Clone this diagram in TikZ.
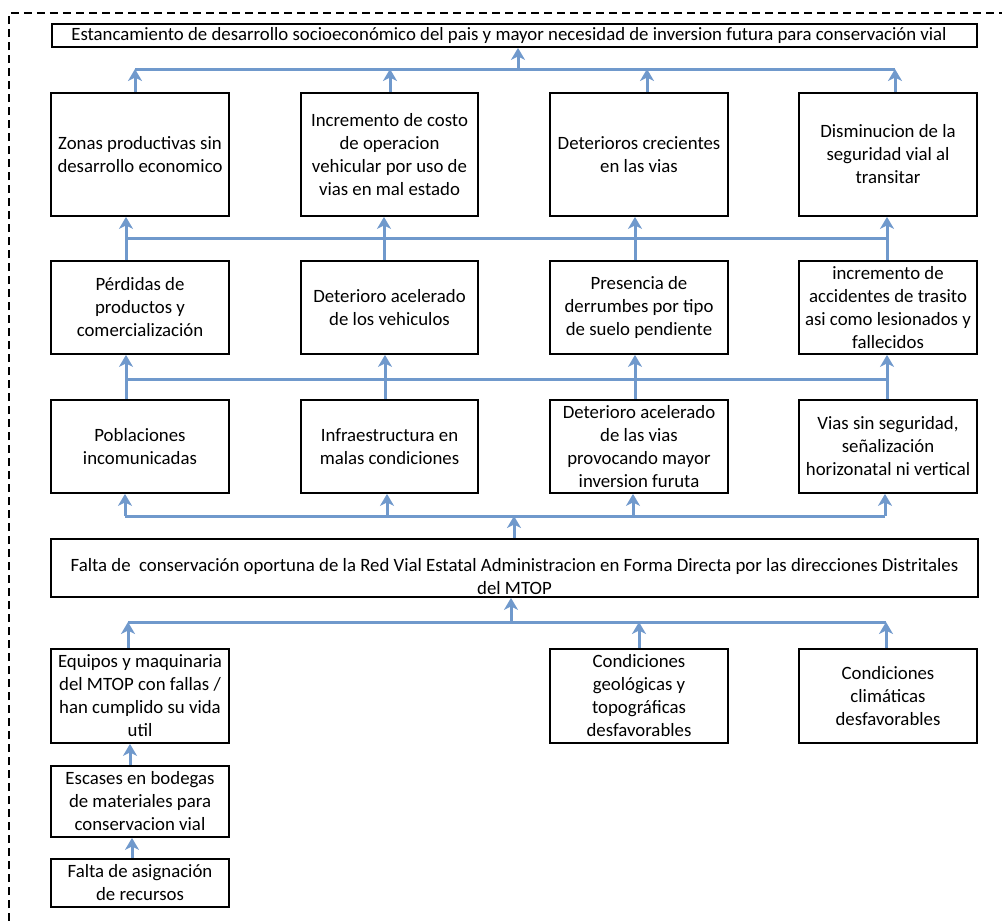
\documentclass[tikz,border=0pt]{standalone}
\usepackage{fontspec}
\setmainfont{Carlito}
\usetikzlibrary{arrows.meta}
\definecolor{arrblue}{RGB}{112,153,204}
\begin{document}
\begin{tikzpicture}[x=1pt,y=-1pt,
  box/.style={draw=black, line width=1.8pt, align=center, inner sep=1pt, font=\fontsize{18.8}{23}\selectfont},
  widetxt/.style={align=center, inner sep=0pt, font=\fontsize{18.8}{23}\selectfont},
  arr/.style={draw=arrblue, line width=3pt, -{Stealth[length=12pt,width=14pt,inset=3.5pt]}},
  ln/.style={draw=arrblue, line width=3pt}]
\useasboundingbox (0,0) rectangle (1002,921);
\draw[line width=1.2pt, dash pattern=on 8pt off 5pt] (9,921) -- (9,13) -- (1002,13);

% top
\node[box, minimum width=925pt, minimum height=23pt] (top) at (514.5,35.5) {};
\node[widetxt] (toptxt) at (509,35.5) {Estancamiento de desarrollo socioeconómico del pais y mayor necesidad de inversion futura para conservación vial};

% row 1
\node[box, minimum width=178pt, minimum height=123pt] (r1a) at (140,154.5) {Zonas productivas sin\\desarrollo economico};
\node[box, minimum width=177pt, minimum height=123pt] (r1b) at (389.5,154.5) {Incremento de costo\\de operacion\\vehicular por uso de\\vias en mal estado};
\node[box, minimum width=178pt, minimum height=123pt] (r1c) at (639,154.5) {Deterioros crecientes\\en las vias};
\node[box, minimum width=178pt, minimum height=123pt] (r1d) at (888,154.5) {Disminucion de la\\seguridad vial al\\transitar};

% row 2
\node[box, minimum width=178pt, minimum height=93pt] (r2a) at (140,307.5) {Pérdidas de\\productos y\\comercialización};
\node[box, minimum width=177pt, minimum height=93pt] (r2b) at (389.5,307.5) {Deterioro acelerado\\de los vehiculos};
\node[box, minimum width=178pt, minimum height=93pt] (r2c) at (639,307.5) {Presencia de\\derrumbes por tipo\\de suelo pendiente};
\node[box, minimum width=178pt, minimum height=93pt] (r2d) at (888,307.5) {incremento de\\accidentes de trasito\\asi como lesionados y\\fallecidos};

% row 3
\node[box, minimum width=178pt, minimum height=93pt] (r3a) at (140,446.5) {Poblaciones\\incomunicadas};
\node[box, minimum width=177pt, minimum height=93pt] (r3b) at (389.5,446.5) {Infraestructura en\\malas condiciones};
\node[box, minimum width=178pt, minimum height=93pt] (r3c) at (639,446.5) {Deterioro acelerado\\de las vias\\provocando mayor\\inversion furuta};
\node[box, minimum width=178pt, minimum height=93pt] (r3d) at (888,446.5) {Vias sin seguridad,\\señalización\\horizonatal ni vertical};

% central problem
\node[box, minimum width=927pt, minimum height=58pt] (falta) at (514.5,568) {};
\node[widetxt] (faltatxt) at (514.5,576.5) {Falta de\ \ conservación oportuna de la Red Vial Estatal Administracion en Forma Directa por las direcciones Distritales\\del MTOP};

% bottom causes
\node[box, minimum width=178pt, minimum height=94pt] (bA) at (140,696) {Equipos y maquinaria\\del MTOP con fallas /\\han cumplido su vida\\util};
\node[box, minimum width=178pt, minimum height=71pt] (bB) at (140,801.5) {Escases en bodegas\\de materiales para\\conservacion vial};
\node[box, minimum width=178pt, minimum height=48pt] (bC) at (140,883) {Falta de asignación\\de recursos};
\node[box, minimum width=178pt, minimum height=94pt] (bD) at (639,696) {Condiciones\\geológicas y\\topográficas\\desfavorables};
\node[box, minimum width=178pt, minimum height=94pt] (bE) at (888,696) {Condiciones\\climáticas\\desfavorables};

% level A: row1 -> top
\coordinate (A1) at (135,69);
\coordinate (A2) at (390,69);
\coordinate (Ac) at (518,69);
\coordinate (A3) at (647,69);
\coordinate (A4) at (895,69);
\draw[ln] (A1) -- (A4);
\draw[arr] (r1a.north -| A1) -- (A1);
\draw[arr] (r1b.north -| A2) -- (A2);
\draw[arr] (r1c.north -| A3) -- (A3);
\draw[arr] (r1d.north -| A4) -- (A4);
\draw[arr] (Ac) -- (top.south -| Ac);

% level B: row2 -> row1
\coordinate (B1) at (126,238);
\coordinate (B2) at (384,238);
\coordinate (B3) at (635,238);
\coordinate (B4) at (887,238);
\draw[ln] (B1) -- (B4);
\draw[ln] (r2a.north -| B1) -- (B1);
\draw[ln] (r2b.north -| B2) -- (B2);
\draw[ln] (r2c.north -| B3) -- (B3);
\draw[ln] (r2d.north -| B4) -- (B4);
\draw[arr] (B1) -- (r1a.south -| B1);
\draw[arr] (B2) -- (r1b.south -| B2);
\draw[arr] (B3) -- (r1c.south -| B3);
\draw[arr] (B4) -- (r1d.south -| B4);

% level C: row3 -> row2
\coordinate (C1) at (126,379);
\coordinate (C2) at (385,379);
\coordinate (C3) at (635,379);
\coordinate (C4) at (887,379);
\draw[ln] (C1) -- (C4);
\draw[ln] (r3a.north -| C1) -- (C1);
\draw[ln] (r3b.north -| C2) -- (C2);
\draw[ln] (r3c.north -| C3) -- (C3);
\draw[ln] (r3d.north -| C4) -- (C4);
\draw[arr] (C1) -- (r2a.south -| C1);
\draw[arr] (C2) -- (r2b.south -| C2);
\draw[arr] (C3) -- (r2c.south -| C3);
\draw[arr] (C4) -- (r2d.south -| C4);

% level D: falta -> row3
\coordinate (D1) at (125,516);
\coordinate (D2) at (387,516);
\coordinate (Dc) at (514,516);
\coordinate (D3) at (633,516);
\coordinate (D4) at (885,516);
\draw[ln] (D1) -- (D4);
\draw[arr] (falta.north -| Dc) -- (Dc);
\draw[arr] (D1) -- (r3a.south -| D1);
\draw[arr] (D2) -- (r3b.south -| D2);
\draw[arr] (D3) -- (r3c.south -| D3);
\draw[arr] (D4) -- (r3d.south -| D4);

% level E: causes -> falta
\coordinate (E1) at (128,622);
\coordinate (Ec) at (511,622);
\coordinate (E3) at (639,622);
\coordinate (E4) at (886,622);
\draw[ln] (E1) -- (E4);
\draw[arr] (Ec) -- (falta.south -| Ec);
\draw[arr] (bA.north -| E1) -- (E1);
\draw[arr] (bD.north -| E3) -- (E3);
\draw[arr] (bE.north -| E4) -- (E4);

% chain of causes
\draw[arr] ([xshift=-10pt]bB.north) -- ([xshift=-10pt]bA.south);
\draw[arr] ([xshift=-8pt]bC.north) -- ([xshift=-8pt]bB.south);
\end{tikzpicture}
\end{document}
